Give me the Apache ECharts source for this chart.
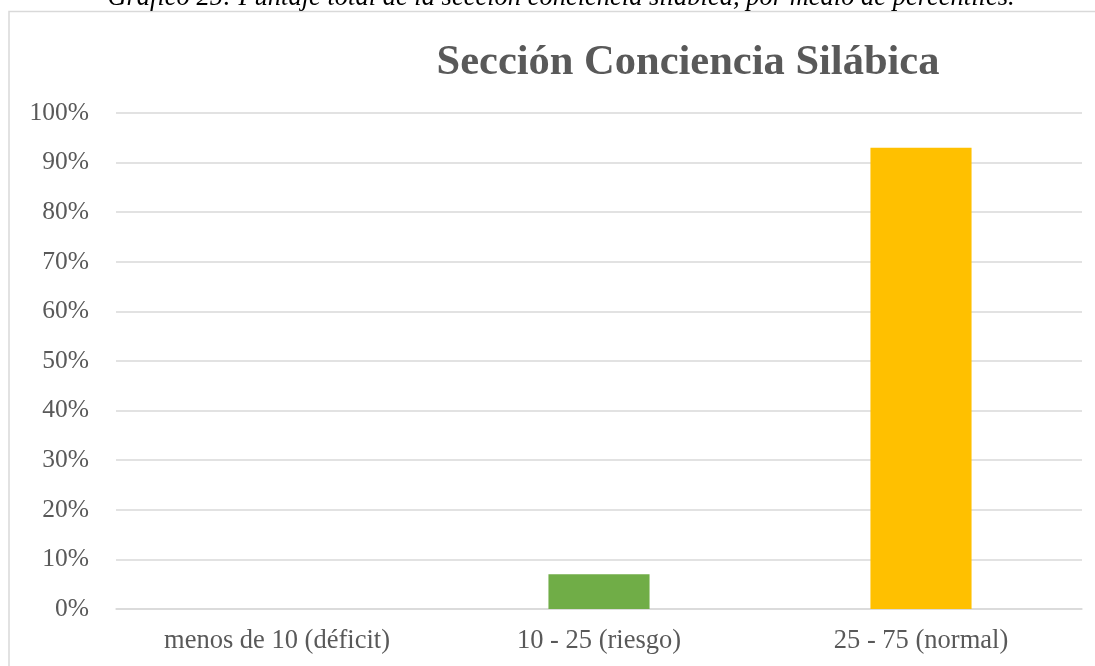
<!DOCTYPE html>
<html>
<head>
<meta charset="utf-8">
<script src="https://cdn.jsdelivr.net/npm/echarts@6/dist/echarts.min.js"></script>
<style>
    html, body { margin: 0; padding: 0; background: #fff; }
    #chart { width: 1095px; height: 666px; }
</style>
</head>
<body>
<div id="chart"></div>
<script>
    // datos
    var categorias = ['menos de 10 (déficit)', '10 - 25 (riesgo)', '25 - 75 (normal)'];
    var porcentajes = [0, 7, 93];
    var colores = ['#4472C4', '#70AD47', '#FFC000'];
    var ticksY = [0, 10, 20, 30, 40, 50, 60, 70, 80, 90, 100];

    var serif = '"Liberation Serif", "DejaVu Serif", serif';
    var chart = echarts.init(document.getElementById('chart'));

    chart.setOption({
        animation: false,
        title: [
            {
                text: 'Gráfico 25: Puntaje total de la sección conciencia silábica, por medio de percentiles.',
                left: 556,
                top: -20,
                textAlign: 'center',
                textStyle: { fontFamily: serif, fontStyle: 'italic', fontWeight: 'normal', fontSize: 26.5, color: '#000' }
            },
            {
                text: 'Sección Conciencia Silábica',
                left: 683,
                top: 37,
                textAlign: 'center',
                textStyle: { fontFamily: serif, fontWeight: 'bold', fontSize: 42.5, color: '#595959' }
            }
        ],
        graphic: [{
            type: 'rect',
            shape: { x: 9, y: 11.5, width: 1200, height: 800 },
            style: { fill: 'none', stroke: '#d9d9d9', lineWidth: 1.5 },
            silent: true
        }],
        grid: { left: 116, right: 13, top: 113, bottom: 57 },
        xAxis: {
            type: 'category',
            data: categorias,
            axisLine: { lineStyle: { color: '#d9d9d9', width: 1.5 } },
            axisTick: { show: false },
            axisLabel: { fontFamily: serif, fontSize: 26.5, color: '#595959', margin: 19 }
        },
        yAxis: {
            type: 'value',
            min: ticksY[0],
            max: ticksY[ticksY.length - 1],
            interval: 10,
            axisLine: { show: false },
            axisTick: { show: false },
            splitLine: { lineStyle: { color: '#d9d9d9', width: 1.5 } },
            axisLabel: { fontFamily: serif, fontSize: 25.5, color: '#595959', margin: 27, formatter: '{value}%' }
        },
        series: [{
            type: 'bar',
            barWidth: '31.4%',
            data: porcentajes.map(function (v, i) {
                return { value: v, itemStyle: { color: colores[i] } };
            })
        }]
    });
</script>
</body>
</html>
